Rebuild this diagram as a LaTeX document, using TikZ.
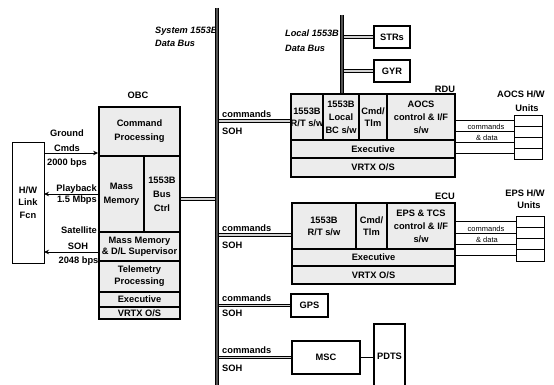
\documentclass[tikz,border=0pt]{standalone}
\usepackage{fontspec}
\setmainfont{Liberation Sans}
\usetikzlibrary{arrows.meta}
\definecolor{cellgray}{RGB}{236,236,236}
\newcommand\bx[7][cell]{%
 \pgfmathsetmacro\bxcx{(#3+#5)/2}%
 \pgfmathsetmacro\bxcy{(#4+#6)/2}%
 \pgfmathsetmacro\bxw{#5-#3}%
 \pgfmathsetmacro\bxh{#6-#4}%
 \node[#1, minimum width=\bxw pt, minimum height=\bxh pt] (#2) at (\bxcx,\bxcy) {#7};}
\begin{document}
\begin{tikzpicture}[x=1pt,y=-1pt,
 cell/.style={draw, fill=cellgray, line width=1.1pt, inner sep=0pt, align=center, font=\bfseries\fontsize{9.3}{13}\selectfont},
 frame/.style={draw, line width=1.8pt, inner sep=0pt},
 plain/.style={draw, fill=white, line width=1.1pt, inner sep=0pt, align=center, font=\bfseries\fontsize{9.3}{12.5}\selectfont},
 unit/.style={draw, fill=white, line width=0.7pt, inner sep=0pt},
 lbl/.style={inner sep=0pt, font=\bfseries\fontsize{9.3}{12}\selectfont},
 ital/.style={inner sep=0pt, font=\bfseries\itshape\fontsize{9.2}{12}\selectfont},
 small/.style={inner sep=0pt, font=\fontsize{7.5}{9}\selectfont},
 arr/.style={line width=0.8pt, -{Stealth[length=5pt,width=4.5pt]}},
 link/.style={draw=black, line width=1.1pt, double=gray!35, double distance=1.1pt},
 bus/.style={draw=black, line width=1pt, double=gray!65!black, double distance=2.2pt},
 thinln/.style={line width=0.7pt}]
\useasboundingbox (0,0) rectangle (554,385);
\clip (0,0) rectangle (554,385);
\fill[white] (0,0) rectangle (554,385);

% H/W link function
\bx[plain, line width=0.9pt]{hw}{12}{142}{44}{263}{H/W\\Link\\Fcn}

% OBC
\node[lbl, anchor=base] (obclbl) at (138,98.5) {OBC};
\bx{cmdproc}{99}{107}{180}{156}{Command\\[1pt]Processing}
\bx{massmem}{99}{156}{144}{232}{Mass\\[1pt]Memory}
\bx{busctrl}{144}{156}{180}{232}{1553B\\[1pt]Bus\\[1pt]Ctrl}
\bx{mmsup}{99}{232}{180}{261}{Mass Memory\\[-2pt]\& D/L Supervisor}
\bx{tlm}{99}{261}{180}{292}{Telemetry\\[-1pt]Processing}
\bx{obcexec}{99}{292}{180}{307}{Executive}
\bx{obcvrtx}{99}{307}{180}{319}{VRTX O/S}
\bx[frame]{obc}{99}{107}{180}{319}{}

% arrows between OBC and H/W
\coordinate (aGC) at (44,153);
\coordinate (aPB) at (44,194);
\coordinate (aSS) at (44,252);
\draw[arr] (aGC) -- (aGC -| obc.west);
\draw[arr] (aPB -| obc.west) -- (aPB);
\draw[arr] (aSS -| obc.west) -- (aSS);
\node[lbl, anchor=base] (gcl1) at (67,137) {Ground};
\node[lbl, anchor=base] (gcl2) at (67,151) {Cmds};
\node[lbl, anchor=base] (gbps) at (67,165.5) {2000 bps};
\node[lbl, anchor=base east] (pbl) at (97,191) {Playback};
\node[lbl, anchor=base east] (pbr) at (97,202.5) {1.5 Mbps};
\node[lbl, anchor=base] (satl) at (79,233.5) {Satellite};
\node[lbl, anchor=base] (sohl) at (78,249) {SOH};
\node[lbl, anchor=base] (sbps) at (78.5,263.5) {2048 bps};

% bus labels
\node[ital, anchor=base west] (sb1) at (155,33.5) {System 1553B};
\node[ital, anchor=base west] (sb2) at (155,46.5) {Data Bus};
\node[ital, anchor=base west] (lb1) at (285,36.5) {Local 1553B};
\node[ital, anchor=base west] (lb2) at (285,51.5) {Data Bus};

% RDU
\node[lbl, anchor=base] (rdul) at (445,92.5) {RDU};
\bx{rdurt}{291}{94}{323}{140}{1553B\\[-1pt]R/T s/w}
\bx{rdubc}{323}{94}{359}{140}{1553B\\Local\\BC s/w}
\bx{rducmd}{359}{94}{387}{140}{Cmd/\\[-1pt]Tlm}
\bx{rduaocs}{387}{94}{455}{140}{AOCS\\control \& I/F\\s/w}
\bx{rduexec}{291}{140}{455}{158}{Executive}
\bx{rduvrtx}{291}{158}{455}{177}{VRTX O/S}
\bx[frame]{rdu}{291}{94}{455}{177}{}

% ECU
\node[lbl, anchor=base] (eculbl) at (445,199) {ECU};
\bx{ecurt}{292}{203}{356}{249}{1553B\\[-1pt]R/T s/w}
\bx{ecucmd}{356}{203}{387}{249}{Cmd/\\[-1pt]Tlm}
\bx{eceps}{387}{203}{455}{249}{EPS \& TCS\\control \& I/F\\s/w}
\bx{ecuexec}{292}{249}{455}{266}{Executive}
\bx{ecuvrtx}{292}{266}{455}{284}{VRTX O/S}
\bx[frame]{ecu}{292}{203}{455}{284}{}

% AOCS H/W units
\node[lbl, anchor=base] (aul1) at (521,98) {AOCS H/W};
\node[lbl, anchor=base] (aul2) at (527,112) {Units};
\bx[unit]{au1}{514}{115}{542}{126}{}
\bx[unit]{au2}{514}{126}{542}{137}{}
\bx[unit]{au3}{514}{137}{542}{148}{}
\bx[unit]{au4}{514}{148}{542}{159}{}
\foreach \i in {1,...,4} \draw[thinln] (au\i.west -| rdu.east) -- (au\i.west);
\node[small, anchor=base] (acmd) at (486,130) {commands};
\node[small, anchor=base] (adata) at (487,141) {\& data};

% EPS H/W units
\node[lbl, anchor=base] (eul1) at (525,196) {EPS H/W};
\node[lbl, anchor=base] (eul2) at (529,208.5) {Units};
\bx[unit]{eu1}{516}{216}{544}{227.25}{}
\bx[unit]{eu2}{516}{227.25}{544}{238.5}{}
\bx[unit]{eu3}{516}{238.5}{544}{249.75}{}
\bx[unit]{eu4}{516}{249.75}{544}{261}{}
\foreach \i in {1,...,4} \draw[thinln] (eu\i.west -| ecu.east) -- (eu\i.west);
\node[small, anchor=base] (ecmd) at (486,231.5) {commands};
\node[small, anchor=base] (edata) at (487,242.5) {\& data};

% STRs / GYR on local bus
\bx[plain]{strs}{374}{26}{410}{48}{STRs}
\bx[plain]{gyr}{374}{60}{410}{82}{GYR}
\coordinate (lbtop) at (342,15);
\draw[link] (lbtop |- strs.west) -- (strs.west);
\draw[link] (lbtop |- gyr.west) -- (gyr.west);
\draw[bus] (lbtop) -- (lbtop |- rdu.north);

% GPS, MSC, PDTS
\bx[plain]{gps}{291}{294}{328}{317}{GPS}
\bx[plain]{msc}{292}{341}{360}{374}{MSC}
\bx[plain]{pdts}{374}{324}{405}{388}{PDTS}
\draw[line width=0.9pt] (msc.east) -- (pdts.west |- msc.east);

% system bus connections
\coordinate (bustop) at (217,8);
\coordinate (busbot) at (217,390);
\coordinate (bOBC) at (217,199);
\coordinate (bRDU) at (217,121);
\coordinate (bECU) at (217,235);
\draw[link] (bOBC) -- (bOBC -| obc.east);
\draw[link] (bRDU) -- (bRDU -| rdu.west);
\draw[link] (bECU) -- (bECU -| ecu.west);
\draw[link] (bustop |- gps.west) -- (gps.west);
\draw[link] (bustop |- msc.west) -- (msc.west);
\draw[bus] (bustop) -- (busbot);

\node[lbl, anchor=base west] (c1) at (222,117.5) {commands};
\node[lbl, anchor=base west] (s1) at (222,134.5) {SOH};
\node[lbl, anchor=base west] (c2) at (222,231.5) {commands};
\node[lbl, anchor=base west] (s2) at (222,248.5) {SOH};
\node[lbl, anchor=base west] (c3) at (222,301) {commands};
\node[lbl, anchor=base west] (s3) at (222,316.5) {SOH};
\node[lbl, anchor=base west] (c4) at (222,353) {commands};
\node[lbl, anchor=base west] (s4) at (222,371) {SOH};
\end{tikzpicture}
\end{document}
